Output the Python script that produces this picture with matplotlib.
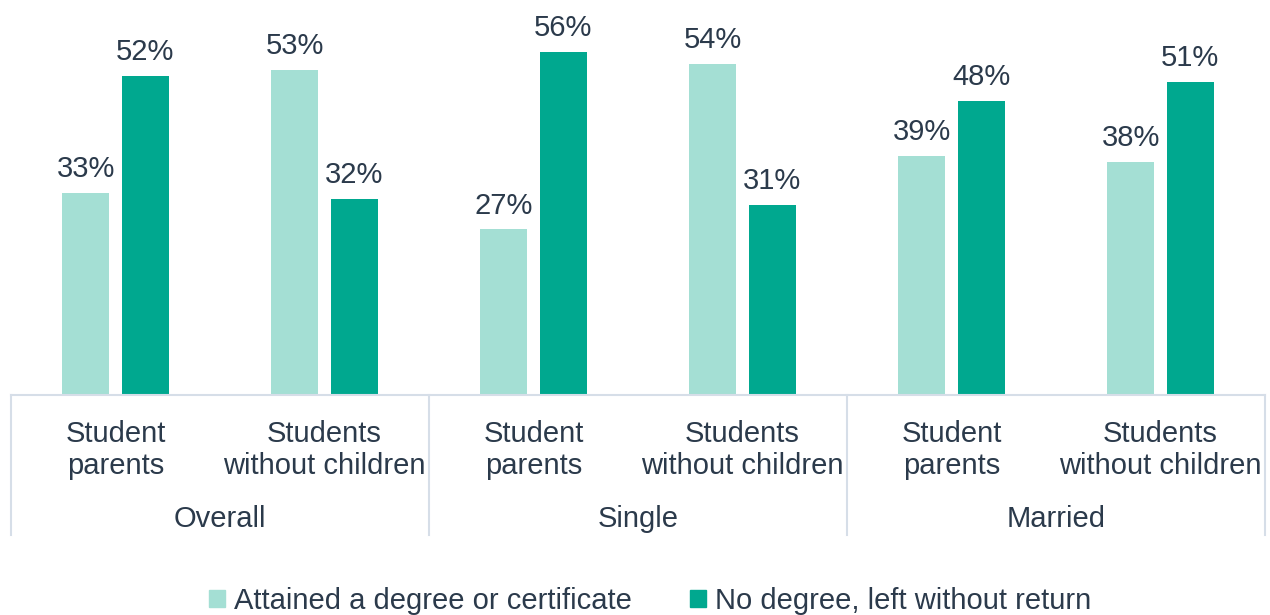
import matplotlib.pyplot as plt
from matplotlib.patches import Patch
import matplotlib.transforms as mtransforms

# values (percent)
groups = ['Overall', 'Single', 'Married']
categories = ['Student\nparents', 'Students\nwithout children'] * 3
attained = [33, 53, 27, 54, 39, 38]
no_degree = [52, 32, 56, 31, 48, 51]
series_names = ['Attained a degree or certificate', 'No degree, left without return']

light = '#A4DFD4'
dark = '#00A88F'
txt = '#2B3A4B'
line_col = '#D6DEE8'

plt.rcParams['font.family'] = ['Liberation Sans', 'DejaVu Sans']

fig = plt.figure(figsize=(12.7, 6.15), dpi=100)
ax = fig.add_axes([11 / 1270, 220 / 615, 1254 / 1270, 395 / 615])

x = list(range(len(categories)))
off = 0.143
w = 0.225
b1 = ax.bar([i - off for i in x], attained, width=w, color=light)
b2 = ax.bar([i + off for i in x], no_degree, width=w, color=dark)

for bars in (b1, b2):
    for rect in bars:
        h = rect.get_height()
        ax.annotate(f'{h:.0f}%', (rect.get_x() + rect.get_width() / 2, h),
                    xytext=(0, 7), textcoords='offset points',
                    ha='center', va='bottom', fontsize=21, color=txt)

ax.set_xlim(-0.5, len(categories) - 0.5)
ax.set_ylim(0, 64.4)
ax.set_xticks([])
ax.set_yticks([])
for s in ['top', 'left', 'right']:
    ax.spines[s].set_visible(False)
ax.spines['bottom'].set_color(line_col)
ax.spines['bottom'].set_linewidth(1.5)

trans = mtransforms.blended_transform_factory(ax.transData, ax.transAxes)
for xv in [-0.5, 1.5, 3.5, 5.5]:
    ax.plot([xv, xv], [0, -0.354], transform=trans, color=line_col,
            lw=1.5, clip_on=False)

for i, lab in zip(x, categories):
    ax.text(i, -0.14, lab, transform=trans, ha='center', va='center',
            fontsize=21, color=txt, linespacing=1.2)
for g, lab in enumerate(groups):
    ax.text(2 * g + 0.5, -0.314, lab, transform=trans, ha='center',
            va='center', fontsize=21, color=txt)

handles = [Patch(color=light), Patch(color=dark)]
fig.legend(handles, series_names, loc='center', bbox_to_anchor=(0.512, 14 / 615),
           ncol=2, frameon=False, fontsize=21, handlelength=0.55, handleheight=0.55,
           handletextpad=0.3, columnspacing=2.0, labelcolor=txt)

fig.savefig('out.png', dpi=100)
